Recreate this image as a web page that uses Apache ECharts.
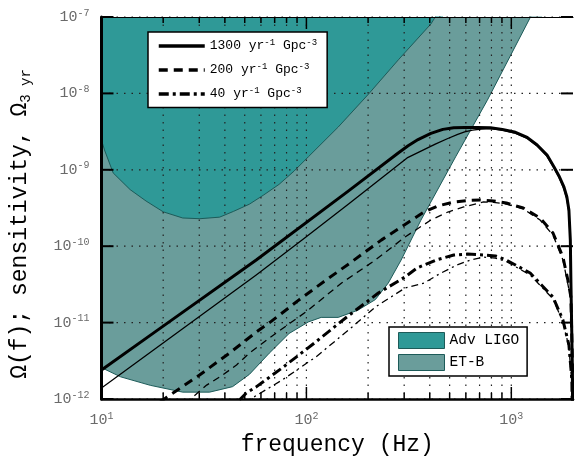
<!DOCTYPE html>
<html><head><meta charset="utf-8">
<script src="https://cdn.jsdelivr.net/npm/echarts@6/dist/echarts.min.js"></script>
<style>html,body{margin:0;padding:0;background:#fff}#c{width:576px;height:462px}</style>
</head><body><div id="c"></div>
<script>
// ---- tick values ----
const xMajorTicks = [10, 100, 1000];
const xMinorTicks = [20, 30, 40, 50, 60, 70, 80, 90, 200, 300, 400, 500, 600, 700, 800, 900];
const yMajorTicks = [1e-12, 1e-11, 1e-10, 1e-9, 1e-8, 1e-7];

// ---- sensitivity curves [frequency Hz, Omega] ----
const advLigo = [[10, 2.45e-9], [10.34, 1.82e-9], [11.4, 9.1e-10], [13.8, 5.5e-10], [16.5, 3.9e-10], [20.0, 2.82e-10],
  [24.9, 2.34e-10], [30.2, 2.29e-10], [37.7, 2.4e-10], [44, 2.85e-10], [52.7, 3.55e-10], [62, 4.7e-10], [73.6, 6.46e-10],
  [87, 9.6e-10], [102.2, 1.48e-9], [143, 3.63e-9], [201, 9.8e-9], [281, 2.75e-8], [405, 8.1e-8], [464, 1.45e-7]];
const etB = [[10, 2.57e-12], [12.4, 1.95e-12], [17.3, 1.51e-12], [24.9, 1.23e-12], [33.7, 1.23e-12],
  [43.6, 1.45e-12], [52.7, 2.1e-12], [65.9, 3.98e-12], [82.3, 7.2e-12], [102.2, 1.02e-11],
  [118, 1.17e-11], [143, 1.17e-11], [178, 1.45e-11], [217, 2.0e-11], [251, 3.3e-11],
  [290, 6.6e-11], [362, 2.19e-10], [535, 1.48e-9], [763, 8.1e-9], [1236, 9.8e-8], [1413, 1.95e-7]];

// ---- background spectra [frequency Hz, Omega] ----
const rate1300 = [[10, 2.4e-12], [19.3, 8.4e-12], [56.9, 6.6e-11], [160.6, 5.3e-10], [280.6, 1.66e-9],
  [313.6, 2.06e-9], [350.6, 2.49e-9], [405, 3.0e-9], [463.4, 3.38e-9], [523.8, 3.55e-9], [592, 3.58e-9],
  [684.5, 3.58e-9], [791, 3.55e-9], [904.5, 3.37e-9],
  [1035, 3.13e-9], [1195, 2.65e-9], [1337, 2.11e-9], [1494, 1.56e-9], [1616, 1.09e-9], [1708, 8.3e-10],
  [1806, 5.96e-10], [1867, 4.4e-10], [1910, 2.98e-10], [1941, 1.2e-10], [1954, 3.3e-11], [1987, 2.4e-12], [1997, 1e-13]];
const rate1300Thin = [[10, 1.39e-12], [56.9, 4.2e-11], [99.5, 1.32e-10], [160.6, 3.56e-10], [310, 1.43e-9],
  [428, 2.18e-9], [490, 2.57e-9], [547.6, 2.9e-9], [592, 3.13e-9], [647, 3.30e-9], [715.8, 3.42e-9],
  [791, 3.46e-9], [904.5, 3.3e-9],
  [1035, 3.03e-9], [1195, 2.58e-9], [1337, 2.05e-9], [1494, 1.5e-9], [1616, 1.06e-9], [1708, 8.0e-10],
  [1806, 5.6e-10], [1867, 4.1e-10], [1910, 2.72e-10], [1941, 1.05e-10], [1954, 2.7e-11], [1987, 1.8e-12], [1997, 1e-13]];
const rate200 = [[19.3, 9.1e-13], [20.9, 1.06e-12], [30.1, 2.06e-12], [42.2, 4.0e-12], [56.9, 7.5e-12],
  [67.1, 1.03e-11], [92.0, 1.98e-11], [121.5, 3.43e-11], [166.7, 6.27e-11], [232.8, 1.21e-10],
  [290, 1.78e-10], [375, 2.80e-10], [438, 3.36e-10], [524, 3.79e-10], [612, 3.96e-10], [708, 4.03e-10],
  [818, 3.91e-10], [946, 3.68e-10], [1143, 3.16e-10], [1382, 2.34e-10], [1597, 1.49e-10], [1786, 7.2e-11],
  [1888, 3.6e-11], [1953, 2.16e-11], [1986, 3.2e-12], [1997, 1e-13]];
const rate200Thin = [[25.5, 8.9e-13], [27.9, 1.06e-12], [32.6, 1.52e-12], [39.0, 2.06e-12], [45.6, 2.79e-12],
  [52.7, 4.0e-12], [71.2, 7.3e-12], [99.5, 1.38e-11], [148.5, 3.30e-11], [217, 6.59e-11], [303, 1.32e-10],
  [405, 2.20e-10], [490, 2.8e-10], [586, 3.26e-10], [732, 3.79e-10], [818, 3.75e-10], [946, 3.56e-10],
  [1143, 3.07e-10], [1382, 2.20e-10], [1597, 1.40e-10], [1786, 6.6e-11], [1888, 3.2e-11], [1953, 2.0e-11],
  [1986, 2.8e-12], [1997, 1e-13]];
const rate40 = [[47.1, 9.7e-13], [50.9, 1.2e-12], [56.9, 1.44e-12], [76.1, 2.55e-12], [106.3, 5.09e-12],
  [155.3, 1.15e-11], [224.4, 2.44e-11], [303, 3.95e-11], [346.7, 5.19e-11], [438, 6.7e-11], [524, 7.67e-11],
  [612, 7.9e-11], [732, 7.67e-11], [836, 7.45e-11], [946, 6.59e-11], [1236, 4.46e-11], [1597, 2.16e-11],
  [1786, 1.08e-11], [1910, 5.1e-12], [1975, 1.78e-12], [1997, 1e-13]];
const rate40Thin = [[50.0, 9.0e-13], [52.7, 9.8e-13], [76.1, 1.77e-12], [111.2, 3.55e-12], [160.6, 8.0e-12],
  [217, 1.60e-11], [303, 2.84e-11], [375, 3.30e-11], [450, 4.4e-11], [542, 5.68e-11], [632, 6.6e-11],
  [732, 7.2e-11], [836, 7.0e-11], [946, 6.3e-11], [1236, 4.2e-11], [1597, 2.05e-11], [1786, 1.02e-11],
  [1910, 4.8e-12], [1975, 1.6e-12], [1997, 1e-13]];

const rateNames = ['1300', '200', '40'];
const bandNames = ['Adv LIGO', 'ET-B'];

const MONO = '"Liberation Mono", "DejaVu Sans Mono", monospace';
const LIGO_COLOR = '#2f9997';
const ETB_COLOR = '#6a9d9b';
const EDGE_COLOR = '#1d5b59';

const chart = echarts.init(document.getElementById('c'), null, {renderer: 'canvas'});

function powLabel(v) {
  const e = Math.log10(v);
  if (Math.abs(e - Math.round(e)) > 1e-6) return '';
  return '{b|10}{e|' + Math.round(e) + '}';
}
const tickRich = {
  b: {fontFamily: MONO, fontSize: 15, lineHeight: 18, color: '#6a6a6a'},
  e: {fontFamily: MONO, fontSize: 10, lineHeight: 10, verticalAlign: 'top', color: '#6a6a6a'}
};

function renderXGrid(params, api) {
  const cs = params.coordSys;
  const px = api.coord([api.value(0), yMajorTicks[0]])[0];
  const top = cs.y, bot = cs.y + cs.height;
  const tl = api.value(2) === 1 ? 12 : 6;
  return {type: 'group', children: [
    {type: 'line', shape: {x1: px, y1: top, x2: px, y2: bot}, style: {stroke: '#222', lineWidth: 1.2, lineDash: [1.5, 6]}},
    {type: 'line', shape: {x1: px, y1: bot, x2: px, y2: bot - tl}, style: {stroke: '#000', lineWidth: 1.5}},
    {type: 'line', shape: {x1: px, y1: top, x2: px, y2: top + tl}, style: {stroke: '#000', lineWidth: 1.5}}
  ]};
}
function renderYGrid(params, api) {
  const cs = params.coordSys;
  const py = api.coord([xMajorTicks[0], api.value(1)])[1];
  const l = cs.x, r = cs.x + cs.width;
  return {type: 'group', children: [
    {type: 'line', shape: {x1: l, y1: py, x2: r, y2: py}, style: {stroke: '#222', lineWidth: 1.2, lineDash: [1.5, 6]}},
    {type: 'line', shape: {x1: l, y1: py, x2: l + 12, y2: py}, style: {stroke: '#000', lineWidth: 2}},
    {type: 'line', shape: {x1: r, y1: py, x2: r - 12, y2: py}, style: {stroke: '#000', lineWidth: 2}}
  ]};
}

function lineSeries(name, data, width, type) {
  return {
    name: name, type: 'line', data: data, showSymbol: false, symbol: 'none',
    clip: true, z: 5, silent: true,
    lineStyle: {color: '#000', width: width, type: type, join: 'round'},
    itemStyle: {color: '#000'}
  };
}

const option = {
  animation: false,
  backgroundColor: '#fff',
  grid: {left: 101, top: 17, right: 0, bottom: 63},
  xAxis: [{
    type: 'log', logBase: 10, min: 10, max: 2000, z: 10,
    axisLine: {lineStyle: {color: '#000', width: 2.5}},
    axisTick: {show: false}, splitLine: {show: false},
    axisLabel: {margin: 12, formatter: powLabel, rich: tickRich},
    name: 'frequency (Hz)', nameLocation: 'middle', nameGap: 34,
    nameTextStyle: {fontFamily: MONO, fontSize: 23, color: '#000'}
  }, {
    type: 'log', logBase: 10, min: 10, max: 2000, position: 'top', z: 10,
    axisLine: {lineStyle: {color: '#000', width: 1.2}},
    axisTick: {show: false}, axisLabel: {show: false}, splitLine: {show: false}
  }],
  yAxis: [{
    type: 'log', logBase: 10, min: 1e-12, max: 1e-7, z: 10,
    axisLine: {lineStyle: {color: '#000', width: 3}},
    axisTick: {show: false}, splitLine: {show: false},
    axisLabel: {margin: 12, formatter: powLabel, rich: tickRich},
    name: '{a|\u03A9(f); sensitivity, \u03A9}{s|3 yr}', nameLocation: 'middle', nameRotate: 90, nameGap: 68,
    nameTextStyle: {padding: [0, 32, 0, 0], rich: {
      a: {fontFamily: MONO, fontSize: 23, lineHeight: 28, color: '#000'},
      s: {fontFamily: MONO, fontSize: 14, lineHeight: 14, verticalAlign: 'bottom', color: '#000'}
    }}
  }, {
    type: 'log', logBase: 10, min: 1e-12, max: 1e-7, position: 'right', z: 10,
    axisLine: {show: false},
    axisTick: {show: false}, axisLabel: {show: false}, splitLine: {show: false}
  }],
  legend: [{
    data: rateNames, orient: 'vertical', left: 148, top: 32,
    itemWidth: 46, itemHeight: 14, itemGap: 9.5, padding: [6, 10, 7, 9],
    backgroundColor: '#fff', borderColor: '#000', borderWidth: 1.5, borderRadius: 0,
    selectedMode: false, z: 20,
    itemStyle: {opacity: 0},
    lineStyle: {width: 3.5},
    formatter: function (n) { return '{t|' + n + ' yr}{s|-1}{t| Gpc}{s|-3}'; },
    textStyle: {rich: {
      t: {fontFamily: MONO, fontSize: 13, lineHeight: 16, color: '#000'},
      s: {fontFamily: MONO, fontSize: 9, lineHeight: 9, verticalAlign: 'top', color: '#000'}
    }}
  }, {
    data: [
      {name: bandNames[0], icon: 'rect', itemStyle: {color: LIGO_COLOR, borderColor: EDGE_COLOR, borderWidth: 1}},
      {name: bandNames[1], icon: 'rect', itemStyle: {color: ETB_COLOR, borderColor: EDGE_COLOR, borderWidth: 1}}
    ],
    orient: 'vertical', left: 389, top: 327,
    itemWidth: 46, itemHeight: 16, itemGap: 5, padding: [5, 8, 5, 9],
    backgroundColor: '#fff', borderColor: '#000', borderWidth: 1.5, borderRadius: 0,
    selectedMode: false, z: 20,
    textStyle: {fontFamily: MONO, fontSize: 14.5, color: '#000'}
  }],
  series: [
    {
      name: bandNames[1], type: 'line', data: etB, showSymbol: false, symbol: 'none', z: 1, silent: true,
      lineStyle: {color: EDGE_COLOR, width: 1}, itemStyle: {color: ETB_COLOR},
      areaStyle: {origin: 'end', color: ETB_COLOR, opacity: 1}
    },
    {
      name: bandNames[0], type: 'line', data: advLigo, showSymbol: false, symbol: 'none', z: 2, silent: true,
      lineStyle: {color: EDGE_COLOR, width: 1}, itemStyle: {color: LIGO_COLOR},
      areaStyle: {origin: 'end', color: LIGO_COLOR, opacity: 1}
    },
    {
      type: 'custom', z: 3, silent: true, renderItem: renderXGrid,
      data: xMajorTicks.map(f => [f, yMajorTicks[0], 1]).concat(xMinorTicks.map(f => [f, yMajorTicks[0], 0]))
    },
    {
      type: 'custom', z: 3, silent: true, renderItem: renderYGrid,
      data: yMajorTicks.map(v => [xMajorTicks[0], v])
    },
    lineSeries(rateNames[0], rate1300, 3, 'solid'),
    lineSeries(rateNames[0] + ' thin', rate1300Thin, 1.3, 'solid'),
    lineSeries(rateNames[1], rate200, 3, [9, 6]),
    lineSeries(rateNames[1] + ' thin', rate200Thin, 1.3, [7, 5]),
    lineSeries(rateNames[2], rate40, 3, [10, 4, 3, 4]),
    lineSeries(rateNames[2] + ' thin', rate40Thin, 1.3, [7, 4, 2, 4])
  ]
};
chart.setOption(option);
</script>
</body></html>
